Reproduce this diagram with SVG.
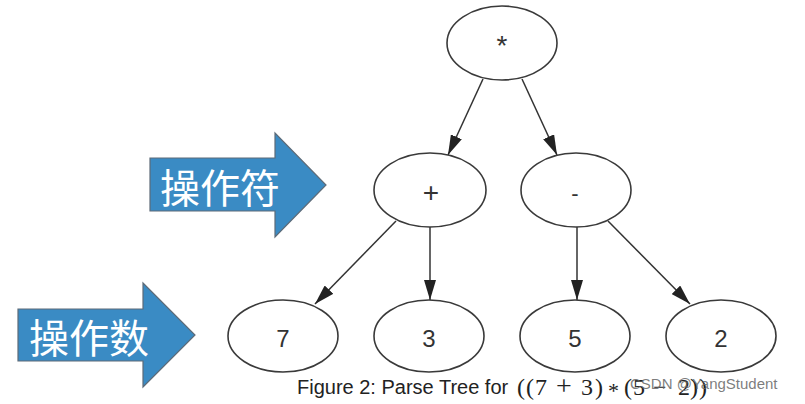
<svg xmlns="http://www.w3.org/2000/svg" width="805" height="404" viewBox="0 0 805 404">
<style>
.node ellipse{fill:#fff;stroke:#3a3a3a;stroke-width:1.6}
.lbl{font-family:"Liberation Sans",Arial,sans-serif;fill:#333;text-anchor:middle}
.edge{stroke:#333;stroke-width:1.5;fill:none;marker-end:url(#ah)}
.big{fill:#3A8BC4;stroke:#5d6b78;stroke-width:1.2}
.cn{font-family:"Noto Sans CJK SC","Noto Sans CJK JP",sans-serif;font-size:40px;fill:#fff;text-anchor:middle}
.cap{font-family:"Liberation Sans",Arial,sans-serif;font-size:20px;fill:#222}
.math{font-family:"Liberation Serif","Times New Roman",serif;font-size:24px;fill:#222}
.wm{font-family:"Liberation Sans",Arial,sans-serif;font-size:15px;fill:#666;fill-opacity:0.85}
</style>
<defs>
<marker id="ah" markerUnits="userSpaceOnUse" markerWidth="20" markerHeight="12" refX="20" refY="6" orient="auto">
<path d="M0,0 L20,6 L0,12 z" fill="#222"/>
</marker>
</defs>
<rect width="805" height="404" fill="#fff"/>

<g id="arrow-operator">
<path class="big" d="M150,158 L275,158 L275,133 L326,185 L275,237 L275,211 L150,211 z"/>
<text class="cn" x="220" y="203">操作符</text>
</g>
<g id="arrow-operand">
<path class="big" d="M18,309 L143,309 L143,283 L195,335 L143,387 L143,361 L18,361 z"/>
<text class="cn" x="89" y="353">操作数</text>
</g>

<g id="connectors">
<line class="edge" x1="483" y1="79" x2="448" y2="155"/>
<line class="edge" x1="522" y1="79" x2="557" y2="155"/>
<line class="edge" x1="396" y1="221" x2="315" y2="304"/>
<line class="edge" x1="430" y1="227" x2="430" y2="300"/>
<line class="edge" x1="577" y1="227" x2="577" y2="300"/>
<line class="edge" x1="608" y1="221" x2="690" y2="304"/>
</g>

<g id="node-mul" class="node">
<ellipse cx="502" cy="43" rx="55" ry="37"/>
<text class="lbl" x="502" y="55" font-size="28">*</text>
</g>
<g id="node-plus" class="node">
<ellipse cx="430" cy="190" rx="56" ry="37"/>
<text class="lbl" x="431" y="202" font-size="28" font-weight="300">+</text>
</g>
<g id="node-minus" class="node">
<ellipse cx="576" cy="190" rx="55" ry="37"/>
<text class="lbl" x="575" y="201" font-size="22">-</text>
</g>
<g id="node-7" class="node">
<ellipse cx="283" cy="336" rx="55" ry="36"/>
<text class="lbl" x="283" y="347" font-size="24">7</text>
</g>
<g id="node-3" class="node">
<ellipse cx="429" cy="336" rx="55" ry="36"/>
<text class="lbl" x="429" y="347" font-size="24">3</text>
</g>
<g id="node-5" class="node">
<ellipse cx="575" cy="336" rx="55" ry="36"/>
<text class="lbl" x="575" y="347" font-size="24">5</text>
</g>
<g id="node-2" class="node">
<ellipse cx="721" cy="336" rx="55" ry="36"/>
<text class="lbl" x="721" y="347" font-size="24">2</text>
</g>

<g id="caption">
<text class="cap" x="297" y="394">Figure 2: Parse Tree for</text>
<text class="math" y="395"><tspan x="517">(</tspan><tspan x="526">(</tspan><tspan x="535">7</tspan><tspan x="556" font-size="28">+</tspan><tspan x="581">3</tspan><tspan x="595">)</tspan><tspan x="608" y="398" font-size="22">*</tspan><tspan x="624" y="395">(</tspan><tspan x="633">5</tspan><tspan x="653">−</tspan><tspan x="678">2</tspan><tspan x="690">)</tspan><tspan x="699">)</tspan></text>
<text class="wm" x="630" y="389">CSDN @YangStudent</text>
</g>
</svg>
